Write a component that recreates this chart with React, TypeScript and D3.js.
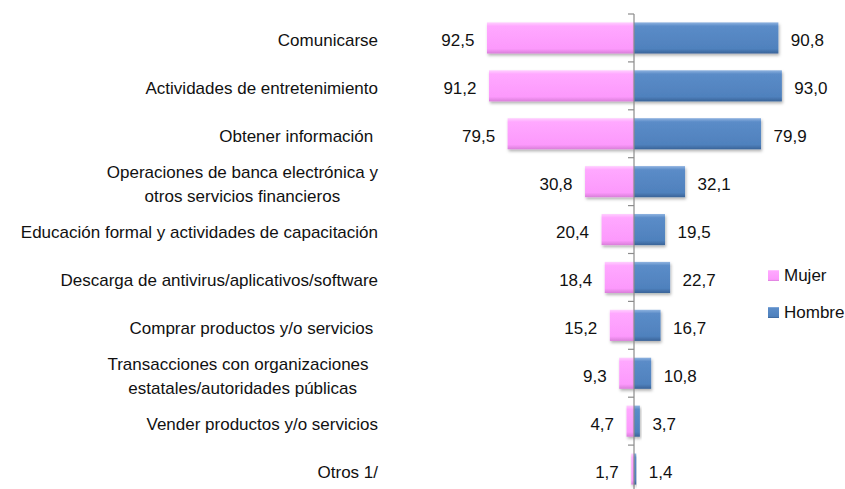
import React from "react";
import * as d3 from "d3";

// categories top to bottom, "\n" marks a line break
const categories = [
  "Comunicarse",
  "Actividades de entretenimiento",
  "Obtener información ",
  "Operaciones de banca electrónica y\notros servicios financieros",
  "Educación formal y actividades de capacitación",
  "Descarga de antivirus/aplicativos/software",
  "Comprar productos y/o servicios ",
  "Transacciones con organizaciones  \nestatales/autoridades públicas",
  "Vender productos y/o servicios",
  "Otros 1/",
];
const mujer = [92.5, 91.2, 79.5, 30.8, 20.4, 18.4, 15.2, 9.3, 4.7, 1.7];
const hombre = [90.8, 93.0, 79.9, 32.1, 19.5, 22.7, 16.7, 10.8, 3.7, 1.4];
const seriesNames = ["Mujer", "Hombre"];

const W = 845;
const H = 489;
const FONT = "'Liberation Sans', Arial, sans-serif";

const fmt = (v: number) => v.toFixed(1).replace(".", ",");

export default function App() {
  const ref = React.useRef<SVGSVGElement>(null);

  React.useEffect(() => {
    document.body.style.margin = "0";
    const svg = d3.select(ref.current);
    svg.selectAll("*").remove();

    const cx = 634;
    const y = d3
      .scaleBand<number>()
      .domain(d3.range(categories.length))
      .range([14, 14 + 47.9 * categories.length])
      .paddingInner(0.35)
      .paddingOuter(0.175);
    const x = d3.scaleLinear().domain([0, 100]).range([0, 159]);

    const defs = svg.append("defs");
    const grad = (id: string, stops: [number, string][]) => {
      const g = defs
        .append("linearGradient")
        .attr("id", id)
        .attr("x1", 0)
        .attr("y1", 0)
        .attr("x2", 0)
        .attr("y2", 1);
      stops.forEach(([o, c]) =>
        g.append("stop").attr("offset", o).attr("stop-color", c)
      );
    };
    grad("pink", [
      [0, "#ffd0ff"],
      [0.12, "#ffa8ff"],
      [0.85, "#fc99fc"],
      [1, "#d97ed9"],
    ]);
    grad("blue", [
      [0, "#8fb3e0"],
      [0.12, "#5b8cc8"],
      [0.85, "#4f81bd"],
      [1, "#3a6398"],
    ]);
    defs
      .append("filter")
      .attr("id", "shadow")
      .attr("x", "-20%")
      .attr("y", "-20%")
      .attr("width", "140%")
      .attr("height", "150%")
      .append("feDropShadow")
      .attr("dx", 1)
      .attr("dy", 2)
      .attr("stdDeviation", 1.5)
      .attr("flood-color", "#000")
      .attr("flood-opacity", 0.3);

    const rows = svg
      .selectAll("g.row")
      .data(categories)
      .join("g")
      .attr("class", "row");

    // bars
    rows
      .append("rect")
      .attr("x", (_, i) => cx - x(mujer[i]))
      .attr("y", (_, i) => y(i)!)
      .attr("width", (_, i) => x(mujer[i]))
      .attr("height", y.bandwidth())
      .attr("fill", "url(#pink)")
      .attr("filter", "url(#shadow)");
    rows
      .append("rect")
      .attr("x", cx)
      .attr("y", (_, i) => y(i)!)
      .attr("width", (_, i) => x(hombre[i]))
      .attr("height", y.bandwidth())
      .attr("fill", "url(#blue)")
      .attr("filter", "url(#shadow)");

    // axis line and ticks
    const yEnd = y.range()[1];
    svg
      .append("line")
      .attr("x1", cx)
      .attr("x2", cx)
      .attr("y1", 14)
      .attr("y2", yEnd)
      .attr("stroke", "#8c8c8c")
      .attr("stroke-width", 1.2);
    svg
      .selectAll("line.tick")
      .data(d3.range(categories.length + 1))
      .join("line")
      .attr("class", "tick")
      .attr("x1", cx - 6)
      .attr("x2", cx)
      .attr("y1", (i) => 14 + i * y.step())
      .attr("y2", (i) => 14 + i * y.step())
      .attr("stroke", "#8c8c8c")
      .attr("stroke-width", 1.2);

    const mid = (i: number) => y(i)! + y.bandwidth() / 2;

    // value labels
    rows
      .append("text")
      .attr("x", (_, i) => cx - x(mujer[i]) - 12.5)
      .attr("y", (_, i) => mid(i) + 8.5)
      .attr("text-anchor", "end")
      .text((_, i) => fmt(mujer[i]));
    rows
      .append("text")
      .attr("x", (_, i) => cx + x(hombre[i]) + 12.5)
      .attr("y", (_, i) => mid(i) + 8.5)
      .attr("text-anchor", "start")
      .text((_, i) => fmt(hombre[i]));

    // category labels, multi-line ones centred within a right-aligned block
    const labelRight = 378;
    const lh = 23.5;
    rows.each(function (d, i) {
      const lines = d.split("\n");
      const g = d3.select(this);
      const texts = lines.map((ln, k) =>
        g
          .append("text")
          .style("white-space", "pre")
          .attr("y", mid(i) + 8.5 + (k - (lines.length - 1) / 2) * lh)
          .text(ln)
      );
      if (lines.length === 1) {
        texts[0].attr("x", labelRight).attr("text-anchor", "end");
      } else {
        const wMax = d3.max(texts, (t) =>
          (t.node() as SVGTextElement).getComputedTextLength()
        )!;
        texts.forEach((t) =>
          t.attr("x", labelRight - wMax / 2).attr("text-anchor", "middle")
        );
      }
    });

    // legend
    const legend = svg
      .selectAll("g.legend")
      .data(seriesNames)
      .join("g")
      .attr("class", "legend")
      .attr("transform", (_, i) => `translate(768,${270 + i * 37})`);
    legend
      .append("rect")
      .attr("width", 11)
      .attr("height", 11)
      .attr("fill", (_, i) => (i === 0 ? "url(#pink)" : "url(#blue)"));
    legend
      .append("text")
      .attr("x", 16)
      .attr("y", 11)
      .text((d) => d);
  }, []);

  return (
    <svg
      ref={ref}
      width={W}
      height={H}
      fontFamily={FONT}
      fontSize={17}
      fill="#111"
      style={{ display: "block", background: "#fff" }}
    />
  );
}
